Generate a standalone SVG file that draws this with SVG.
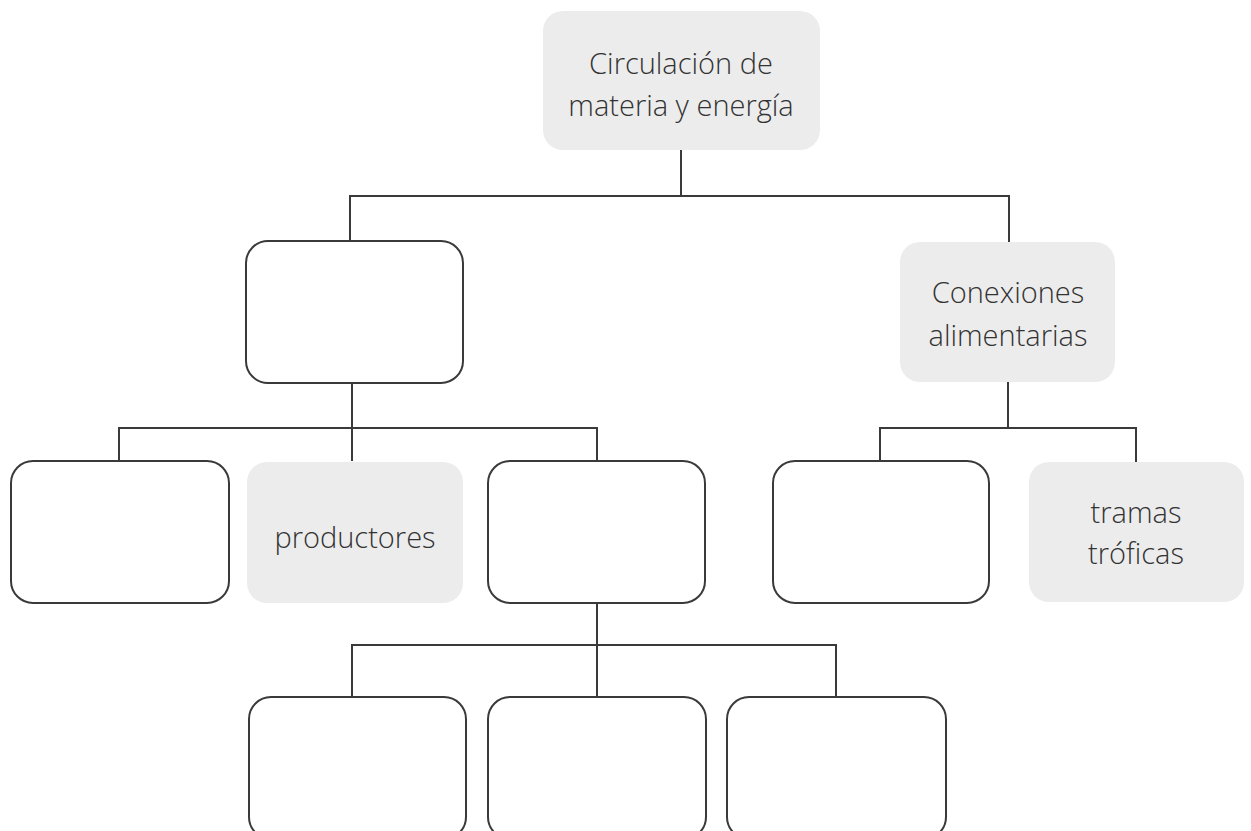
<svg xmlns="http://www.w3.org/2000/svg" width="1251" height="831" viewBox="0 0 1251 831">
<style>
.filled{fill:#ececec;stroke:none}
.empty{fill:#fff;stroke:#3a3a3a;stroke-width:2}
.conn{fill:none;stroke:#3a3a3a;stroke-width:2}
text{font-family:"Open Sans","Liberation Sans",sans-serif;font-size:29px;font-weight:300;fill:#333;text-anchor:middle}
</style>
<rect width="1251" height="831" fill="#fff"/>
<g id="connectors">
<path class="conn" d="M681 150V196M350 241V196H1009V242"/>
<path class="conn" d="M352 383V461M119 461V428H597V461"/>
<path class="conn" d="M1008 382V428M880 461V428H1136V462"/>
<path class="conn" d="M597 603V697M352 697V645H836V697"/>
</g>
<g id="n-root"><rect class="filled" x="543" y="11" width="277" height="139" rx="20"/><text x="681" y="74">Circulación de</text><text x="681" y="116">materia y energía</text></g>
<g id="n-left"><rect class="empty" x="246" y="241" width="217" height="142" rx="22"/></g>
<g id="n-conexiones"><rect class="filled" x="900" y="242" width="215" height="140" rx="20"/><text x="1008" y="303">Conexiones</text><text x="1008" y="346">alimentarias</text></g>
<g id="n-l1"><rect class="empty" x="11" y="461" width="218" height="142" rx="22"/></g>
<g id="n-productores"><rect class="filled" x="247" y="462" width="216" height="141" rx="20"/><text x="355" y="548">productores</text></g>
<g id="n-l3"><rect class="empty" x="488" y="461" width="217" height="142" rx="22"/></g>
<g id="n-r1"><rect class="empty" x="773" y="461" width="216" height="142" rx="22"/></g>
<g id="n-tramas"><rect class="filled" x="1029" y="462" width="215" height="140" rx="20"/><text x="1136" y="523">tramas</text><text x="1136" y="564">tróficas</text></g>
<g id="n-b1"><rect class="empty" x="249" y="697" width="217" height="142" rx="22"/></g>
<g id="n-b2"><rect class="empty" x="488" y="697" width="218" height="142" rx="22"/></g>
<g id="n-b3"><rect class="empty" x="727" y="697" width="219" height="142" rx="22"/></g>
</svg>
